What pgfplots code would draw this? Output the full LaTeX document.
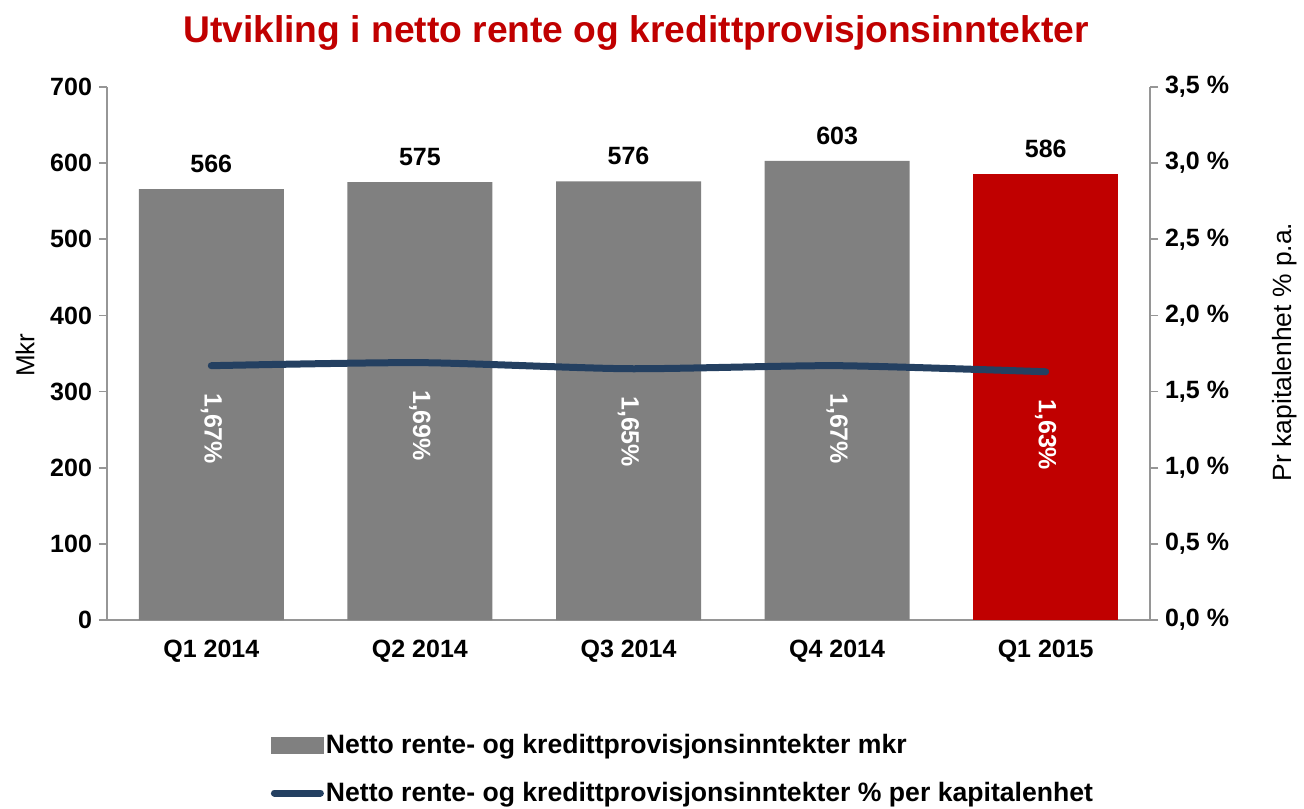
\documentclass[border=0pt]{standalone}
\usepackage{pgfplots}
\pgfplotsset{compat=1.18}
\usepackage{fontspec}
\setmainfont{Liberation Sans}
\definecolor{bargray}{RGB}{128,128,128}
\definecolor{barred}{RGB}{192,0,0}
\definecolor{navy}{RGB}{36,64,97}
\definecolor{axgray}{RGB}{150,150,150}
\begin{document}
\begin{tikzpicture}[x=1pt,y=1pt]
\useasboundingbox (-53.5pt,-94pt) rectangle (598.5pt,310pt);
\node[font=\fontsize{18.6}{22}\selectfont\bfseries, text=barred, anchor=base] at (264.5pt,288.5pt) {Utvikling i netto rente og kredittprovisjonsinntekter};
\begin{axis}[
  at={(0,0)}, anchor=south west,
  scale only axis, width=521.5pt, height=266.5pt,
  xmin=-0.5, xmax=4.5, ymin=0, ymax=700,
  axis y line*=left, axis x line*=bottom,
  axis line style={axgray, line width=0.8pt},
  xtick={0,1,2,3,4},
  xticklabels={Q1 2014,Q2 2014,Q3 2014,Q4 2014,Q1 2015},
  major x tick style={draw=none},
  ytick={0,100,...,700},
  yticklabels={0,100,200,300,400,500,600,700},
  y tick style={axgray, line width=0.8pt},
  tick align=outside, major tick length=4pt,
  tick label style={font=\fontsize{12.5}{14}\selectfont\bfseries},
  x tick label style={yshift=-2.5pt},
  ylabel={Mkr},
  ylabel style={font=\fontsize{13}{15}\selectfont, at={(axis description cs:-0.0786,0.497)}, anchor=center},
  ybar, bar width=72.5pt, bar shift=0pt,
  nodes near coords,
  /pgf/number format/assume math mode=true,
  every node near coord/.append style={font=\fontsize{12.5}{14}\selectfont\bfseries, text=black, anchor=south, inner sep=1pt, yshift=7pt},
  legend style={at={(axis description cs:0.151,-0.203)}, anchor=north west, draw=none, fill=none,
    font=\fontsize{13.3}{15}\selectfont\bfseries, row sep=10.5pt,
    /tikz/every even column/.append style={column sep=0pt},
    nodes={inner sep=1pt}},
  legend cell align=left,
]
\addplot[fill=bargray, draw=none,
  legend image code/.code={\fill[bargray] (0pt,-4.25pt) rectangle (26.5pt,4.25pt);}]
  coordinates {(0,566) (1,575) (2,576) (3,603)};
\addlegendentry{Netto rente- og kredittprovisjonsinntekter mkr}
\addplot[fill=barred, draw=none, forget plot] coordinates {(4,586)};
\addlegendimage{legend image code/.code={\draw[navy, line width=3.5pt, line cap=round] (1.75pt,0pt) -- (24.75pt,0pt);}}
\addlegendentry{Netto rente- og kredittprovisjonsinntekter \% per kapitalenhet}
\end{axis}
\begin{axis}[
  at={(0,0)}, anchor=south west,
  scale only axis, width=521.5pt, height=266.5pt,
  xmin=-0.5, xmax=4.5, ymin=0, ymax=3.5,
  axis y line*=right, axis x line=none,
  axis line style={axgray, line width=0.8pt},
  ytick={0,0.5,...,3.5},
  yticklabels={{0,0 \%},{0,5 \%},{1,0 \%},{1,5 \%},{2,0 \%},{2,5 \%},{3,0 \%},{3,5 \%}},
  y tick style={axgray, line width=0.8pt},
  tick align=outside, major tick length=4pt,
  tick label style={font=\fontsize{12.5}{14}\selectfont\bfseries},
  ylabel={Pr kapitalenhet \% p.a.},
  ylabel style={font=\fontsize{13.2}{15}\selectfont, at={(axis description cs:1.129,0.503)}, anchor=center, rotate=0},
  clip=false,
]
\addplot[navy, line width=3.5pt, line cap=round, smooth, tension=0.4,
  point meta=explicit symbolic,
  nodes near coords,
  every node near coord/.append style={font=\fontsize{12.5}{14}\selectfont\bfseries, text=white, rotate=-90, anchor=west, inner sep=0pt, xshift=12pt}]
  coordinates {(0,1.67) [1,67\%] (1,1.69) [1,69\%] (2,1.65) [1,65\%] (3,1.67) [1,67\%] (4,1.63) [1,63\%]};
\end{axis}
\end{tikzpicture}
\end{document}
